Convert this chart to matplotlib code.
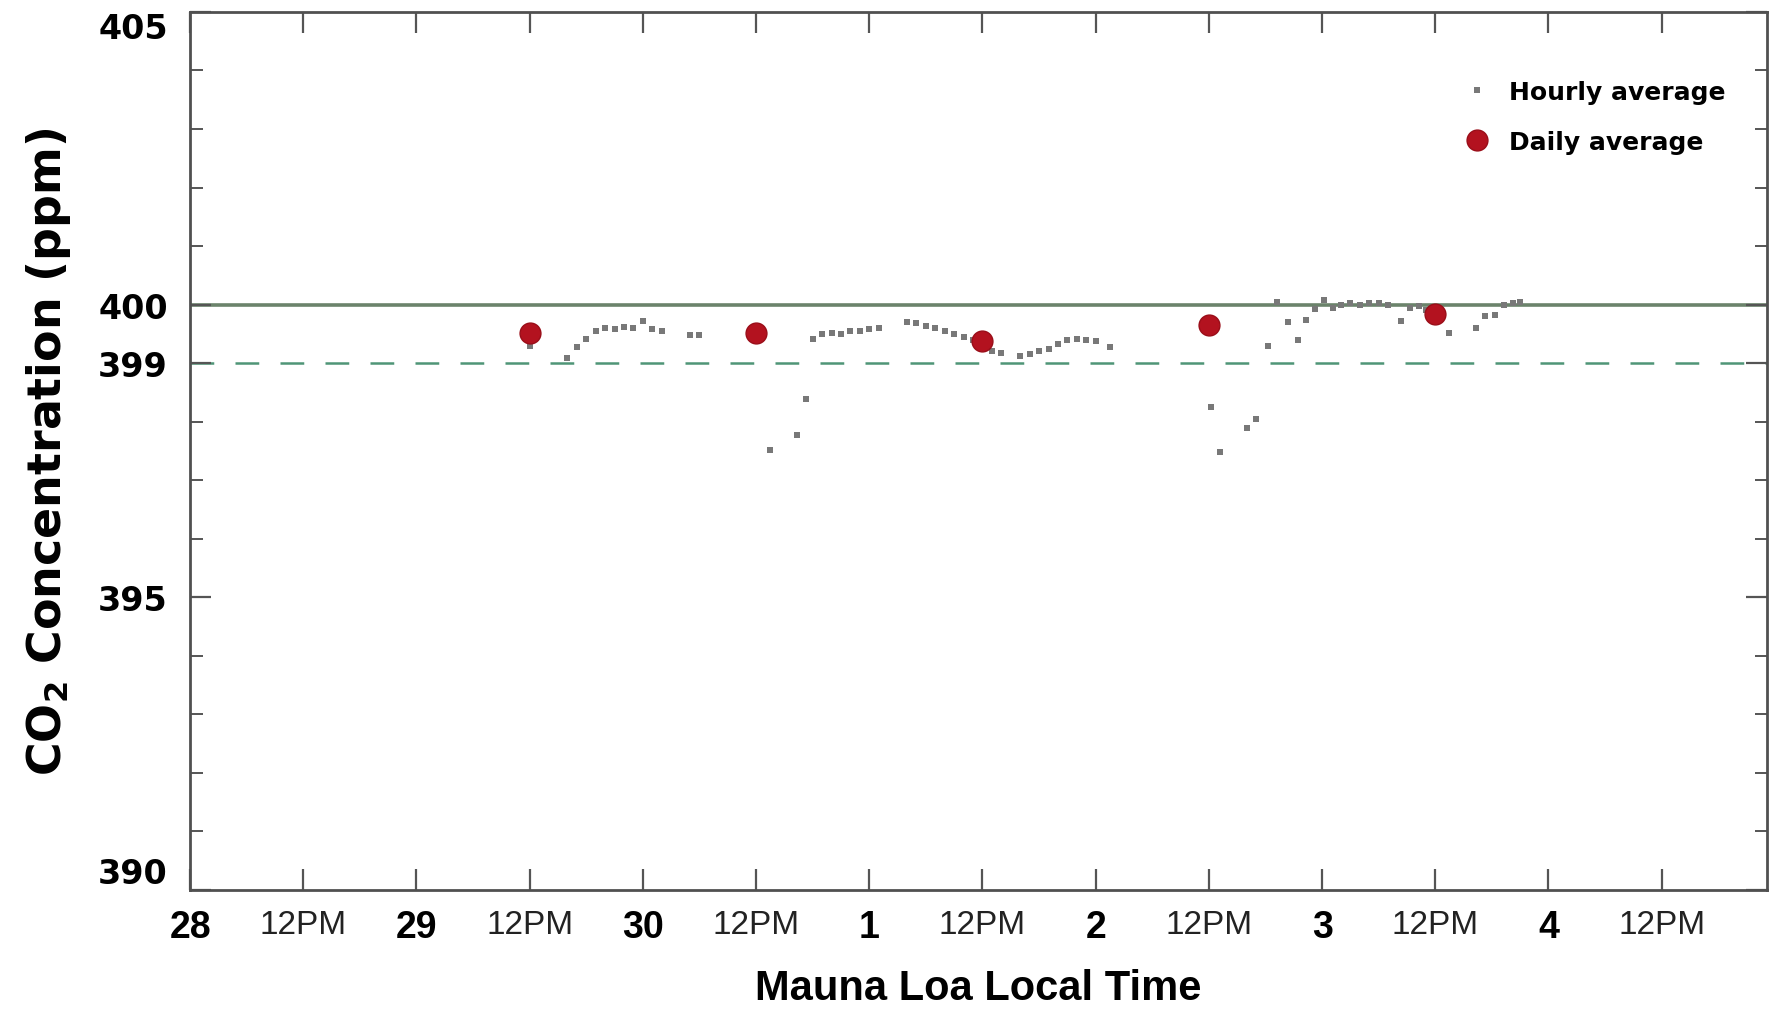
import numpy as np
import matplotlib.pyplot as plt
from matplotlib.lines import Line2D

# Hourly CO2 averages (hours counted from day 28, 00:00)
hourly_hours = [36, 40, 41, 42, 43, 44, 45, 46, 47, 48, 49, 50, 53, 54,
                61.5, 64.3, 65.3, 66, 67, 68, 69, 70, 71, 72, 73,
                76, 77, 78, 79, 80, 81, 82, 83, 84, 85, 86,
                88, 89, 90, 91, 92, 93, 94, 95, 96, 97.5,
                108.2, 109.2, 112, 113, 114.3, 115.2, 116.4, 117.4, 118.3, 119.3,
                120.2, 121.2, 122, 123, 124, 125, 126, 127, 128.4, 129.3, 130.3,
                131, 132, 133.5, 136.3, 137.3, 138.3, 139.3, 140.2, 141]
hourly_co2 = [399.30, 399.08, 399.28, 399.42, 399.55, 399.60, 399.58, 399.62, 399.60,
              399.72, 399.58, 399.55, 399.48, 399.48,
              397.52, 397.77, 398.38, 399.42, 399.50, 399.52, 399.50, 399.55, 399.55,
              399.58, 399.60,
              399.70, 399.68, 399.64, 399.60, 399.55, 399.50, 399.45, 399.40, 399.30,
              399.20, 399.18,
              399.12, 399.15, 399.20, 399.25, 399.32, 399.40, 399.42, 399.40, 399.38,
              399.28,
              398.25, 397.48, 397.90, 398.04, 399.30, 400.05, 399.70, 399.40, 399.74,
              399.93, 400.08, 399.95, 400.00, 400.02, 400.00, 400.02, 400.03, 400.00,
              399.72, 399.95, 399.97, 399.90, 399.85, 399.52, 399.60, 399.80, 399.82,
              400.00, 400.02, 400.05]

# Daily averages, plotted at noon
daily_days = [1.5, 2.5, 3.5, 4.5, 5.5]
daily_co2 = [399.52, 399.52, 399.38, 399.65, 399.84]

# x tick labels every half day
xtick_labels = ['28', '12PM', '29', '12PM', '30', '12PM', '1', '12PM',
                '2', '12PM', '3', '12PM', '4', '12PM']
ytick_values = [390, 395, 399, 400, 405]

plt.rcParams['font.family'] = ['Liberation Sans', 'DejaVu Sans']
plt.rcParams['mathtext.fontset'] = 'custom'
plt.rcParams['mathtext.rm'] = 'DejaVu Sans:bold'
plt.rcParams['mathtext.default'] = 'rm'

fig = plt.figure(figsize=(17.73, 10.12), dpi=100)
ax = fig.add_axes([0.1072, 0.1196, 0.8894, 0.8676])

ax.axhline(400, color='#6b836b', lw=2.6, zorder=1)
ax.axhline(399, color='#4f9577', lw=1.8, dashes=(9.5, 8.5), zorder=1)

x_hourly = np.array(hourly_hours) / 24.0
ax.plot(x_hourly, hourly_co2, 's', ms=4.6, color='#787878', mew=0, zorder=3)
ax.plot(daily_days, daily_co2, 'o', ms=15, color='#b3121f', mec='#9a0d18',
        mew=1.0, zorder=4)

ax.set_xlim(0, 6.965)
ax.set_ylim(390, 405)

ax.set_xticks(np.arange(len(xtick_labels)) * 0.5)
ax.set_xticklabels(xtick_labels)
for lab in ax.get_xticklabels():
    if lab.get_text() == '12PM':
        lab.set_fontsize(24)
        lab.set_fontweight('normal')
        lab.set_color('#222222')
    else:
        lab.set_fontsize(27)
        lab.set_fontweight('bold')

ax.set_yticks(ytick_values)
ax.set_yticklabels([str(v) for v in ytick_values], fontsize=24, fontweight='bold',
                   family='DejaVu Sans')
ax.set_yticks(np.arange(390, 406, 1), minor=True)
# keep the end labels inside the axes height like the original
for lab in ax.get_yticklabels():
    if lab.get_text() == '405':
        lab.set_va('top')
    elif lab.get_text() == '390':
        lab.set_va('bottom')

ax.tick_params(axis='both', which='major', direction='in', length=15, width=1.6,
               color='#555555', top=True, right=True)
ax.tick_params(axis='y', which='minor', direction='in', length=9, width=1.4,
               color='#555555', right=True)
ax.tick_params(axis='x', which='major', pad=14)
ax.tick_params(axis='y', which='major', pad=16)

for s in ax.spines.values():
    s.set_color('#505050')
    s.set_linewidth(2.0)

ax.set_xlabel('Mauna Loa Local Time', fontsize=30, fontweight='bold', labelpad=16)
ax.set_ylabel('CO$_2$ Concentration (ppm)', fontsize=33, fontweight='bold',
              labelpad=18, family='DejaVu Sans')

handles = [Line2D([], [], ls='none', marker='s', ms=4.6, color='#787878', mew=0),
           Line2D([], [], ls='none', marker='o', ms=15, color='#b3121f', mec='#9a0d18')]
ax.legend(handles, ['Hourly average', 'Daily average'], loc='upper left',
          bbox_to_anchor=(0.808, 0.923), frameon=False, borderaxespad=0, borderpad=0,
          handlelength=1.0, handletextpad=0.8, labelspacing=1.05,
          prop={'size': 18, 'weight': 'bold', 'family': 'DejaVu Sans'})

fig.savefig('out.png', dpi=100)
